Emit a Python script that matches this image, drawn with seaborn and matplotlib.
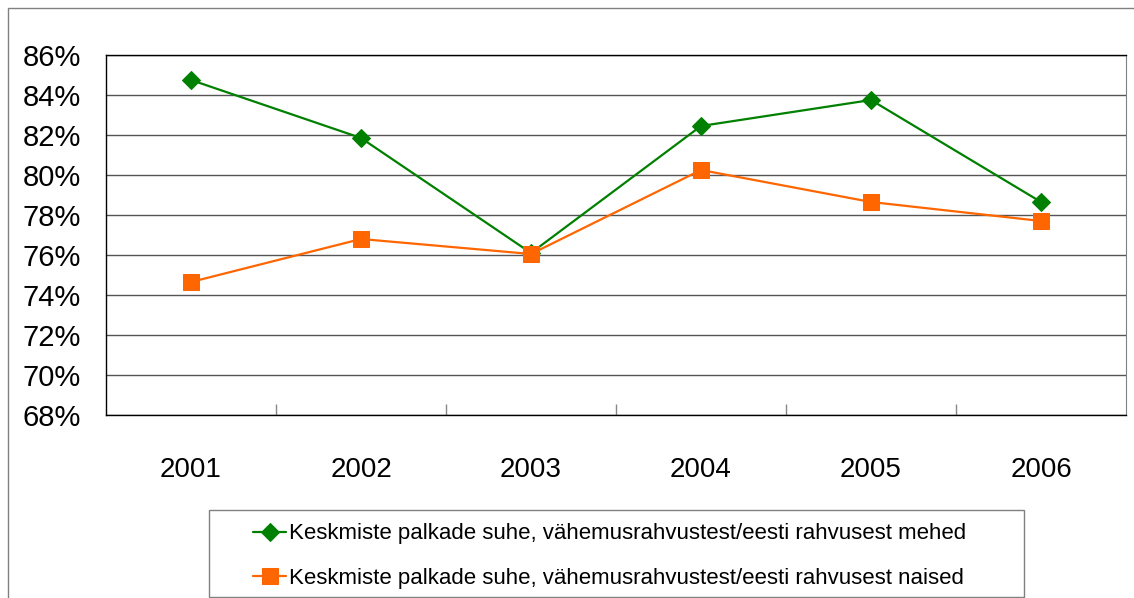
import pandas as pd
import matplotlib.pyplot as plt
import seaborn as sns
from matplotlib.patches import Rectangle
from matplotlib.ticker import FuncFormatter, FixedLocator

# === Data ===
years = ["2001", "2002", "2003", "2004", "2005", "2006"]
men = [84.75, 81.85, 76.1, 82.45, 83.75, 78.65]
women = [74.65, 76.8, 76.05, 80.25, 78.65, 77.7]
label_men = "Keskmiste palkade suhe, vähemusrahvustest/eesti rahvusest mehed"
label_women = "Keskmiste palkade suhe, vähemusrahvustest/eesti rahvusest naised"

df = pd.DataFrame({"year": years, "men": men, "women": women})

# === Setup ===
sns.set_style("white")
plt.rcParams["font.family"] = ["Liberation Sans", "DejaVu Sans"]

W, H = 1134, 598
fig = plt.figure(figsize=(W / 100, H / 100), dpi=100)
ax = fig.add_axes([106 / W, 1 - 415 / H, (1126 - 106) / W, (415 - 55) / H])

sns.lineplot(data=df, x="year", y="men", ax=ax, color="#008000", lw=1.6,
             marker="D", markersize=9, markeredgecolor="#008000", label=label_men)
sns.lineplot(data=df, x="year", y="women", ax=ax, color="#FF6600", lw=1.6,
             marker="s", markersize=11, markeredgecolor="#FF6600", label=label_women)

# === Axes ===
ax.set_ylim(68, 86)
ax.set_xlim(-0.5, len(years) - 0.5)
ax.set_yticks(range(68, 87, 2))
ax.yaxis.set_major_formatter(FuncFormatter(lambda v, p: f"{v:.0f}%"))
ax.yaxis.grid(True, color="#555555", lw=1)
ax.set_axisbelow(True)
ax.set_xlabel("")
ax.set_ylabel("")
ax.tick_params(axis="y", labelsize=21, pad=18, direction="in", length=0, colors="black")
ax.tick_params(axis="x", labelsize=20, pad=30, length=0, colors="black")
ax.xaxis.set_minor_locator(FixedLocator([i + 0.5 for i in range(len(years) - 1)]))
ax.tick_params(axis="x", which="minor", bottom=True, direction="in", length=8,
               color="#888888", width=1)

for s in ["left", "bottom", "top"]:
    ax.spines[s].set_color("black")
    ax.spines[s].set_linewidth(1)
ax.spines["right"].set_color("#808080")

# === Outer frame ===
fig.patches.append(Rectangle((8 / W, -0.1), 1.2, 1.1 - 8 / H, transform=fig.transFigure,
                             fill=False, edgecolor="#808080", lw=1))

# === Legend ===
ax.get_legend().remove()
fig.patches.append(Rectangle((209 / W, 1 - 597 / H), (1024 - 209) / W, 87 / H,
                             transform=fig.transFigure, fill=False, edgecolor="#808080", lw=1))
handles, labels = ax.get_legend_handles_labels()
fig.legend(handles, labels, loc="center left", bbox_to_anchor=(253 / W, 1 - 556 / H),
           frameon=False, fontsize=16, handlelength=1.5, handletextpad=0.1,
           labelspacing=1.05, borderpad=0, borderaxespad=0, labelcolor="black")

plt.savefig("out.png", dpi=100)
plt.close()
